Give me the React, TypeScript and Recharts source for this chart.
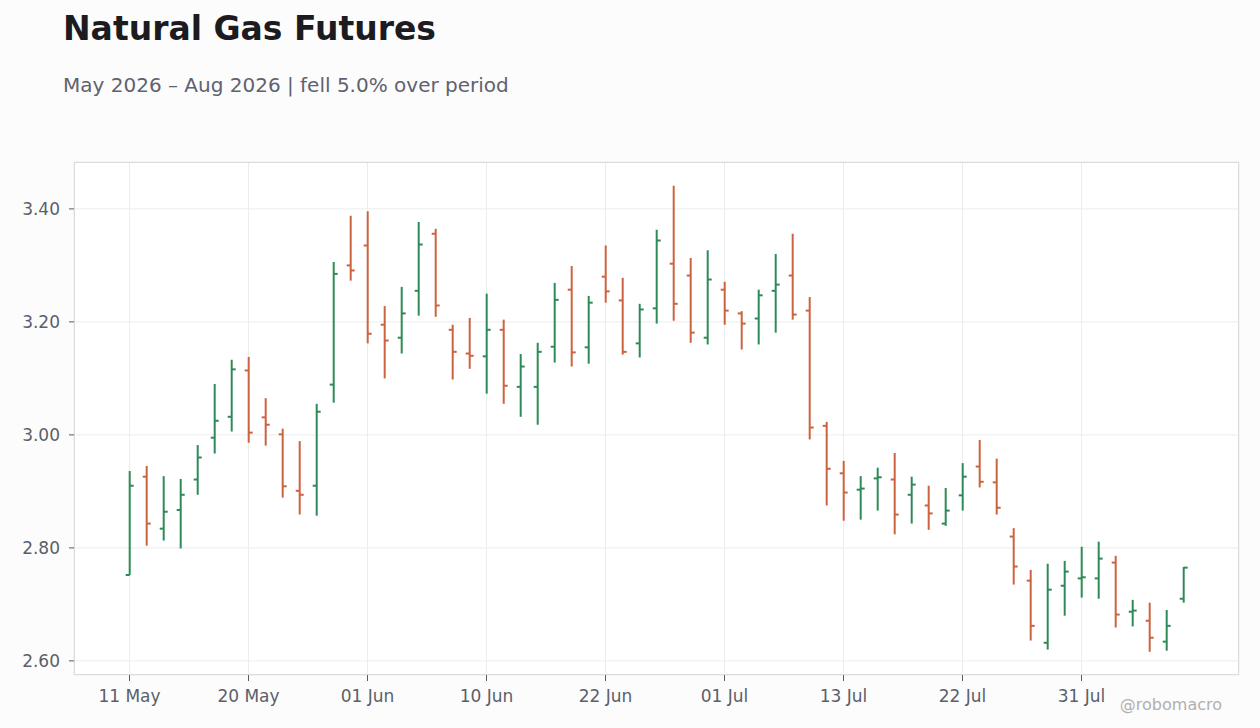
import { ComposedChart, Bar, XAxis, YAxis, CartesianGrid } from 'recharts'

// business days, 11 May – 10 Aug 2026
const dates = [
  '2026-05-11', '2026-05-12', '2026-05-13', '2026-05-14', '2026-05-15', '2026-05-18', '2026-05-19',
  '2026-05-20', '2026-05-21', '2026-05-22', '2026-05-26', '2026-05-27', '2026-05-28', '2026-05-29',
  '2026-06-01', '2026-06-02', '2026-06-03', '2026-06-04', '2026-06-05', '2026-06-08', '2026-06-09',
  '2026-06-10', '2026-06-11', '2026-06-12', '2026-06-15', '2026-06-16', '2026-06-17', '2026-06-18',
  '2026-06-22', '2026-06-23', '2026-06-24', '2026-06-25', '2026-06-26', '2026-06-29', '2026-06-30',
  '2026-07-01', '2026-07-02', '2026-07-06', '2026-07-07', '2026-07-08', '2026-07-09', '2026-07-10',
  '2026-07-13', '2026-07-14', '2026-07-15', '2026-07-16', '2026-07-17', '2026-07-20', '2026-07-21',
  '2026-07-22', '2026-07-23', '2026-07-24', '2026-07-27', '2026-07-28', '2026-07-29', '2026-07-30',
  '2026-07-31', '2026-08-03', '2026-08-04', '2026-08-05', '2026-08-06', '2026-08-07', '2026-08-10',
]

const opens = [
  2.752, 2.926, 2.834, 2.867, 2.921, 2.995, 3.032, 3.114, 3.031, 3.001, 2.901, 2.910, 3.089, 3.300,
  3.335, 3.195, 3.172, 3.255, 3.356, 3.186, 3.144, 3.139, 3.186, 3.085, 3.085, 3.156, 3.257, 3.155,
  3.280, 3.238, 3.162, 3.224, 3.303, 3.282, 3.172, 3.257, 3.215, 3.206, 3.255, 3.282, 3.220, 3.016,
  2.932, 2.903, 2.923, 2.921, 2.894, 2.875, 2.843, 2.893, 2.944, 2.916, 2.820, 2.742, 2.632, 2.733,
  2.746, 2.746, 2.774, 2.687, 2.671, 2.634, 2.710,
]
const highs = [
  2.936, 2.945, 2.927, 2.922, 2.982, 3.090, 3.133, 3.138, 3.065, 3.011, 2.989, 3.055, 3.306, 3.388,
  3.396, 3.228, 3.262, 3.377, 3.365, 3.195, 3.207, 3.250, 3.204, 3.143, 3.163, 3.269, 3.299, 3.246,
  3.335, 3.278, 3.232, 3.363, 3.441, 3.313, 3.327, 3.271, 3.219, 3.257, 3.320, 3.356, 3.244, 3.023,
  2.954, 2.927, 2.942, 2.968, 2.926, 2.910, 2.906, 2.950, 2.991, 2.958, 2.835, 2.761, 2.772, 2.777,
  2.802, 2.811, 2.786, 2.708, 2.703, 2.690, 2.766,
]
const lows = [
  2.752, 2.804, 2.813, 2.799, 2.894, 2.967, 3.006, 2.986, 2.981, 2.889, 2.859, 2.857, 3.057, 3.273,
  3.162, 3.100, 3.144, 3.211, 3.209, 3.098, 3.117, 3.073, 3.055, 3.032, 3.018, 3.128, 3.121, 3.126,
  3.234, 3.142, 3.137, 3.197, 3.202, 3.163, 3.160, 3.195, 3.151, 3.160, 3.181, 3.204, 2.992, 2.875,
  2.848, 2.850, 2.866, 2.824, 2.843, 2.832, 2.839, 2.866, 2.907, 2.859, 2.735, 2.636, 2.620, 2.680,
  2.712, 2.710, 2.659, 2.661, 2.616, 2.618, 2.703,
]
const closes = [
  2.910, 2.843, 2.864, 2.894, 2.960, 3.025, 3.116, 3.004, 3.018, 2.909, 2.894, 3.041, 3.285, 3.291,
  3.179, 3.167, 3.215, 3.337, 3.229, 3.147, 3.140, 3.186, 3.087, 3.121, 3.147, 3.239, 3.146, 3.234,
  3.254, 3.147, 3.222, 3.344, 3.232, 3.181, 3.275, 3.220, 3.197, 3.247, 3.266, 3.213, 3.013, 2.940,
  2.898, 2.905, 2.925, 2.859, 2.912, 2.861, 2.866, 2.926, 2.917, 2.871, 2.767, 2.662, 2.726, 2.758,
  2.748, 2.781, 2.682, 2.689, 2.641, 2.662, 2.765,
]

const xTicks = ['2026-05-11', '2026-05-20', '2026-06-01', '2026-06-10', '2026-06-22', '2026-07-01', '2026-07-13', '2026-07-22', '2026-07-31']
const yTicks = [2.6, 2.8, 3.0, 3.2, 3.4]

const MONTHS = ['Jan', 'Feb', 'Mar', 'Apr', 'May', 'Jun', 'Jul', 'Aug', 'Sep', 'Oct', 'Nov', 'Dec']
const fmtDate = (s: string) => {
  const [, m, d] = s.split('-')
  return `${d} ${MONTHS[Number(m) - 1]}`
}

const UP = '#2e8b57'
const DOWN = '#cc6340'
const FONT = '"DejaVu Sans", sans-serif'

const data = dates.map((date, i) => ({
  date,
  open: opens[i],
  high: highs[i],
  low: lows[i],
  close: closes[i],
}))

function OhlcShape(props: any) {
  const { x, y, width, height, payload } = props
  if (!payload) return null
  const { open, high, low, close } = payload
  const top = Math.min(y, y + height)
  const bottom = Math.max(y, y + height)
  const span = high - low || 1
  const yOf = (v: number) => top + ((high - v) / span) * (bottom - top)
  const cx = x + width / 2
  const color = close >= open ? UP : DOWN
  return (
    <g stroke={color} strokeWidth={2}>
      <line x1={cx} x2={cx} y1={top} y2={bottom} />
      <line x1={cx - 4} x2={cx} y1={yOf(open)} y2={yOf(open)} />
      <line x1={cx} x2={cx + 4} y1={yOf(close)} y2={yOf(close)} />
    </g>
  )
}

export default function App() {
  return (
    <div style={{ position: 'absolute', left: 0, top: 0, width: 1260, height: 728, background: '#fcfcfc', fontFamily: FONT }}>
      <svg width={1260} height={728} style={{ position: 'absolute', left: 0, top: 0 }}>
        <text x={63} y={40} fontSize={33} fontWeight="bold" fill="#1b1b20" fontFamily={FONT}>
          Natural Gas Futures
        </text>
        <text x={63} y={92} fontSize={20} fill="#5f6270" fontFamily={FONT}>
          May 2026 – Aug 2026 | fell 5.0% over period
        </text>
        <text x={1222} y={710} fontSize={16} fill="#b0b0b0" textAnchor="end" fontFamily={FONT}>
          @robomacro
        </text>
      </svg>
      <div style={{ position: 'absolute', left: 74, top: 162, width: 1165, height: 513, background: '#ffffff' }} />
      <div style={{ position: 'absolute', left: 0, top: 0 }}>
        <ComposedChart width={1260} height={728} data={data} margin={{ top: 162, right: 21, bottom: 23, left: 0 }}>
          <CartesianGrid stroke="#ececec" strokeWidth={1} />
          <XAxis
            dataKey="date"
            ticks={xTicks}
            tickFormatter={fmtDate}
            padding={{ left: 47, right: 47 }}
            height={30}
            axisLine={false}
            tickLine={{ stroke: '#555a66' }}
            tickSize={6}
            tickMargin={9}
            tick={{ fontSize: 17, fill: '#5b5f6b', fontFamily: FONT }}
          />
          <YAxis
            type="number"
            domain={[2.575, 3.483]}
            ticks={yTicks}
            allowDataOverflow
            tickFormatter={(v: number) => v.toFixed(2)}
            width={74}
            axisLine={false}
            tickLine={{ stroke: '#555a66' }}
            tickSize={5}
            tickMargin={9}
            tick={{ fontSize: 17, fill: '#5b5f6b', fontFamily: FONT }}
          />
          <Bar dataKey={(d: any) => [d.low, d.high]} shape={OhlcShape} isAnimationActive={false} />
        </ComposedChart>
      </div>
      <div
        style={{
          position: 'absolute',
          left: 74,
          top: 162,
          width: 1165,
          height: 513,
          boxSizing: 'border-box',
          border: '1px solid #dcdcdc',
          pointerEvents: 'none',
        }}
      />
    </div>
  )
}
